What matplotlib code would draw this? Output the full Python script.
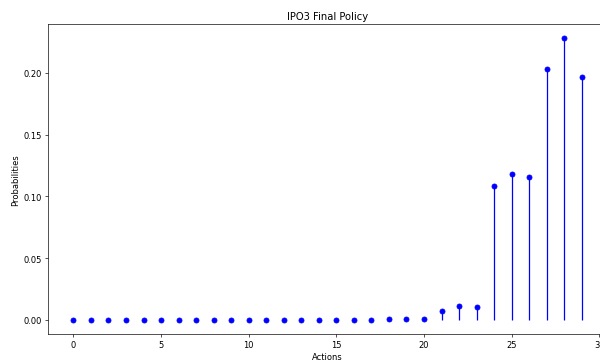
import numpy as np
import matplotlib
matplotlib.use("Agg")
import matplotlib.pyplot as plt

actions = np.arange(30)
probs = [0.0, 0.0, 0.0, 0.0, 0.0, 0.0, 0.0, 0.0, 0.0, 0.0,
         0.0, 0.0, 0.0, 0.0, 0.0, 0.0, 0.0, 0.0, 0.0004, 0.0005,
         0.0005, 0.0071, 0.0113, 0.0105, 0.1085, 0.1180, 0.1156, 0.2032, 0.2281, 0.1968]

fig = plt.figure(figsize=(10, 6.083), dpi=60)
ax = fig.add_axes([0.08, 0.0822, 0.932, 0.8493])
ax.stem(actions, probs, linefmt="b-", markerfmt="bo", basefmt=" ")
ax.set_title("IPO3 Final Policy")
ax.set_xlabel("Actions")
ax.set_ylabel("Probabilities")
fig.savefig("out.png", dpi=60)
